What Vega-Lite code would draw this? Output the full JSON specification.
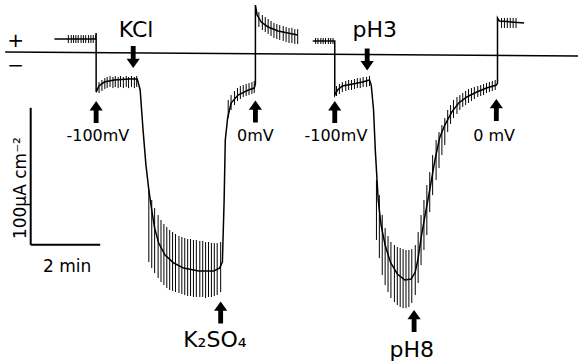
{
  "$schema": "https://vega.github.io/schema/vega-lite/v6.json",
  "autosize": {"type": "fit", "contains": "padding"},
  "width": 582,
  "height": 363,
  "padding": 0,
  "background": "white",
  "config": {"view": {"stroke": null}},
  "datasets": {
    "baseline": [{"t": 9, "I": 0.7}, {"t": 998, "I": -2.2}],
    "trace": [
      {"seg": "A", "t": 94, "I": 10.2}, {"seg": "A", "t": 117, "I": 10.2}, {"seg": "A", "t": 165, "I": 10.2},
      {"seg": "A", "t": 166, "I": 14.6}, {"seg": "A", "t": 166, "I": -28.5}, {"seg": "A", "t": 171, "I": -24.1},
      {"seg": "A", "t": 180, "I": -21.2}, {"seg": "A", "t": 197, "I": -19.7}, {"seg": "A", "t": 223, "I": -19.0},
      {"seg": "A", "t": 237, "I": -19.0}, {"seg": "A", "t": 242, "I": -27.0}, {"seg": "A", "t": 247, "I": -56.2},
      {"seg": "A", "t": 252, "I": -81.8}, {"seg": "A", "t": 257, "I": -100.0}, {"seg": "A", "t": 262, "I": -114.6},
      {"seg": "A", "t": 267, "I": -127.8}, {"seg": "A", "t": 274, "I": -138.7}, {"seg": "A", "t": 285, "I": -147.5},
      {"seg": "A", "t": 300, "I": -153.3}, {"seg": "A", "t": 317, "I": -157.0}, {"seg": "A", "t": 343, "I": -159.1},
      {"seg": "A", "t": 369, "I": -159.1}, {"seg": "A", "t": 379, "I": -157.0}, {"seg": "A", "t": 384, "I": -152.6},
      {"seg": "A", "t": 387, "I": -107.3}, {"seg": "A", "t": 389, "I": -63.5}, {"seg": "A", "t": 393, "I": -47.5},
      {"seg": "A", "t": 399, "I": -36.5}, {"seg": "A", "t": 411, "I": -30.7}, {"seg": "A", "t": 429, "I": -27.0},
      {"seg": "A", "t": 439, "I": -25.6}, {"seg": "A", "t": 441, "I": -22.6}, {"seg": "A", "t": 441, "I": 35.0},
      {"seg": "A", "t": 444, "I": 27.7}, {"seg": "A", "t": 451, "I": 22.6}, {"seg": "A", "t": 463, "I": 19.0},
      {"seg": "A", "t": 480, "I": 16.1}, {"seg": "A", "t": 497, "I": 14.6}, {"seg": "A", "t": 514, "I": 13.1},
      {"seg": "B", "t": 540, "I": 8.8}, {"seg": "B", "t": 578, "I": 8.8}, {"seg": "B", "t": 578, "I": -30.7},
      {"seg": "B", "t": 583, "I": -27.0}, {"seg": "B", "t": 591, "I": -24.1}, {"seg": "B", "t": 609, "I": -22.6},
      {"seg": "B", "t": 626, "I": -21.2}, {"seg": "B", "t": 638, "I": -19.7}, {"seg": "B", "t": 641, "I": -23.4},
      {"seg": "B", "t": 645, "I": -41.6}, {"seg": "B", "t": 648, "I": -70.8}, {"seg": "B", "t": 653, "I": -107.3},
      {"seg": "B", "t": 658, "I": -125.6}, {"seg": "B", "t": 665, "I": -140.2}, {"seg": "B", "t": 674, "I": -152.6},
      {"seg": "B", "t": 686, "I": -161.3}, {"seg": "B", "t": 699, "I": -165.7}, {"seg": "B", "t": 710, "I": -165.0},
      {"seg": "B", "t": 717, "I": -159.9}, {"seg": "B", "t": 722, "I": -149.7}, {"seg": "B", "t": 727, "I": -135.1},
      {"seg": "B", "t": 734, "I": -118.3}, {"seg": "B", "t": 742, "I": -100.0}, {"seg": "B", "t": 751, "I": -78.1},
      {"seg": "B", "t": 759, "I": -62.1}, {"seg": "B", "t": 768, "I": -52.6}, {"seg": "B", "t": 780, "I": -43.1},
      {"seg": "B", "t": 792, "I": -36.5}, {"seg": "B", "t": 806, "I": -32.1}, {"seg": "B", "t": 823, "I": -28.5},
      {"seg": "B", "t": 840, "I": -25.6}, {"seg": "B", "t": 857, "I": -23.4}, {"seg": "B", "t": 859, "I": -21.9},
      {"seg": "B", "t": 859, "I": 25.6}, {"seg": "B", "t": 862, "I": 23.4}, {"seg": "B", "t": 905, "I": 21.9}
    ],
    "ticks": [
      {"t": 118, "lo": 7.3, "hi": 13.1}, {"t": 123, "lo": 7.3, "hi": 13.1}, {"t": 127, "lo": 7.3, "hi": 13.1},
      {"t": 131, "lo": 7.3, "hi": 13.1}, {"t": 135, "lo": 7.3, "hi": 13.1}, {"t": 140, "lo": 7.3, "hi": 13.1},
      {"t": 144, "lo": 7.3, "hi": 13.1}, {"t": 148, "lo": 7.3, "hi": 13.1}, {"t": 153, "lo": 7.3, "hi": 13.1},
      {"t": 157, "lo": 7.3, "hi": 13.1}, {"t": 161, "lo": 7.3, "hi": 13.1},
      {"t": 171, "lo": -29.2, "hi": -21.2}, {"t": 176, "lo": -27.7, "hi": -19.7}, {"t": 181, "lo": -26.3, "hi": -18.3},
      {"t": 185, "lo": -25.6, "hi": -17.5}, {"t": 190, "lo": -24.8, "hi": -16.8}, {"t": 195, "lo": -25.6, "hi": -17.5},
      {"t": 199, "lo": -24.8, "hi": -16.8}, {"t": 204, "lo": -25.6, "hi": -17.5}, {"t": 208, "lo": -24.8, "hi": -16.8},
      {"t": 213, "lo": -25.6, "hi": -17.5}, {"t": 218, "lo": -24.8, "hi": -16.8}, {"t": 222, "lo": -25.6, "hi": -17.5},
      {"t": 227, "lo": -24.8, "hi": -16.8}, {"t": 232, "lo": -25.6, "hi": -17.5}, {"t": 236, "lo": -24.8, "hi": -16.8},
      {"t": 257, "lo": -152.6, "hi": -100.0}, {"t": 262, "lo": -157.0, "hi": -107.3}, {"t": 267, "lo": -160.6, "hi": -113.2},
      {"t": 273, "lo": -164.3, "hi": -118.3}, {"t": 278, "lo": -167.2, "hi": -121.9}, {"t": 283, "lo": -169.4, "hi": -124.8},
      {"t": 288, "lo": -171.6, "hi": -127.0}, {"t": 293, "lo": -173.0, "hi": -129.2}, {"t": 298, "lo": -173.7, "hi": -130.7},
      {"t": 303, "lo": -174.5, "hi": -132.1}, {"t": 309, "lo": -175.2, "hi": -133.6}, {"t": 314, "lo": -175.9, "hi": -134.3},
      {"t": 319, "lo": -176.7, "hi": -135.1}, {"t": 324, "lo": -177.4, "hi": -135.8}, {"t": 329, "lo": -177.4, "hi": -135.8},
      {"t": 334, "lo": -178.1, "hi": -136.5}, {"t": 339, "lo": -178.1, "hi": -136.5}, {"t": 345, "lo": -178.1, "hi": -137.2},
      {"t": 350, "lo": -178.1, "hi": -137.2}, {"t": 355, "lo": -178.9, "hi": -138.0}, {"t": 360, "lo": -178.1, "hi": -138.0},
      {"t": 365, "lo": -178.1, "hi": -138.7}, {"t": 370, "lo": -177.4, "hi": -138.7}, {"t": 375, "lo": -176.7, "hi": -138.7},
      {"t": 381, "lo": -174.5, "hi": -138.0},
      {"t": 394, "lo": -47.5, "hi": -34.3}, {"t": 399, "lo": -41.6, "hi": -30.7}, {"t": 405, "lo": -38.0, "hi": -27.7},
      {"t": 410, "lo": -35.0, "hi": -25.6}, {"t": 415, "lo": -33.6, "hi": -24.1}, {"t": 420, "lo": -32.1, "hi": -23.4},
      {"t": 425, "lo": -31.4, "hi": -22.6}, {"t": 430, "lo": -30.7, "hi": -21.9}, {"t": 435, "lo": -29.9, "hi": -21.2},
      {"t": 439, "lo": -29.2, "hi": -20.4},
      {"t": 447, "lo": 19.0, "hi": 29.9}, {"t": 453, "lo": 16.8, "hi": 27.7}, {"t": 458, "lo": 15.3, "hi": 26.3},
      {"t": 463, "lo": 13.9, "hi": 24.8}, {"t": 468, "lo": 12.4, "hi": 23.4}, {"t": 473, "lo": 11.0, "hi": 21.9},
      {"t": 478, "lo": 10.2, "hi": 21.2}, {"t": 483, "lo": 9.5, "hi": 20.4}, {"t": 489, "lo": 8.8, "hi": 19.7},
      {"t": 494, "lo": 8.0, "hi": 19.0}, {"t": 499, "lo": 7.3, "hi": 18.3}, {"t": 504, "lo": 7.3, "hi": 18.3},
      {"t": 509, "lo": 6.6, "hi": 17.5}, {"t": 514, "lo": 6.6, "hi": 17.5},
      {"t": 545, "lo": 6.6, "hi": 11.0}, {"t": 549, "lo": 6.6, "hi": 11.0}, {"t": 554, "lo": 6.6, "hi": 11.0},
      {"t": 558, "lo": 6.6, "hi": 11.0}, {"t": 562, "lo": 6.6, "hi": 11.0}, {"t": 567, "lo": 6.6, "hi": 11.0},
      {"t": 571, "lo": 6.6, "hi": 11.0}, {"t": 575, "lo": 6.6, "hi": 11.0},
      {"t": 581, "lo": -31.4, "hi": -24.1}, {"t": 586, "lo": -29.9, "hi": -22.6}, {"t": 591, "lo": -28.5, "hi": -21.2},
      {"t": 597, "lo": -27.7, "hi": -20.4}, {"t": 602, "lo": -27.0, "hi": -19.7}, {"t": 607, "lo": -27.0, "hi": -19.7},
      {"t": 612, "lo": -26.3, "hi": -19.0}, {"t": 617, "lo": -25.6, "hi": -18.3}, {"t": 622, "lo": -25.6, "hi": -18.3},
      {"t": 627, "lo": -24.8, "hi": -17.5}, {"t": 633, "lo": -24.8, "hi": -17.5}, {"t": 638, "lo": -24.1, "hi": -16.8},
      {"t": 650, "lo": -136.5, "hi": -92.7}, {"t": 655, "lo": -149.7, "hi": -103.7}, {"t": 660, "lo": -162.1, "hi": -118.3},
      {"t": 665, "lo": -169.4, "hi": -127.8}, {"t": 670, "lo": -174.5, "hi": -133.6}, {"t": 675, "lo": -178.9, "hi": -138.0},
      {"t": 681, "lo": -181.8, "hi": -140.2}, {"t": 686, "lo": -184.0, "hi": -141.6}, {"t": 691, "lo": -185.4, "hi": -142.4},
      {"t": 696, "lo": -186.2, "hi": -143.1}, {"t": 701, "lo": -186.2, "hi": -143.8}, {"t": 706, "lo": -185.4, "hi": -143.8},
      {"t": 711, "lo": -182.5, "hi": -143.1}, {"t": 717, "lo": -176.7, "hi": -140.2}, {"t": 722, "lo": -167.9, "hi": -130.7},
      {"t": 727, "lo": -154.8, "hi": -118.3}, {"t": 732, "lo": -143.8, "hi": -107.3}, {"t": 737, "lo": -132.9, "hi": -96.4},
      {"t": 742, "lo": -116.1, "hi": -86.9}, {"t": 747, "lo": -103.7, "hi": -74.5}, {"t": 753, "lo": -92.7, "hi": -63.5},
      {"t": 758, "lo": -84.0, "hi": -57.7}, {"t": 763, "lo": -74.5, "hi": -52.6}, {"t": 768, "lo": -67.2, "hi": -47.5},
      {"t": 773, "lo": -57.7, "hi": -41.6}, {"t": 778, "lo": -51.8, "hi": -38.0}, {"t": 783, "lo": -47.5, "hi": -34.3},
      {"t": 789, "lo": -44.5, "hi": -32.1}, {"t": 794, "lo": -41.6, "hi": -30.7}, {"t": 799, "lo": -39.4, "hi": -29.2},
      {"t": 804, "lo": -38.0, "hi": -27.7}, {"t": 809, "lo": -36.5, "hi": -26.3}, {"t": 814, "lo": -35.0, "hi": -25.6},
      {"t": 819, "lo": -33.6, "hi": -24.8}, {"t": 825, "lo": -32.1, "hi": -24.1}, {"t": 830, "lo": -31.4, "hi": -23.4},
      {"t": 835, "lo": -30.7, "hi": -22.6}, {"t": 840, "lo": -29.2, "hi": -21.9}, {"t": 845, "lo": -28.5, "hi": -21.2},
      {"t": 850, "lo": -27.7, "hi": -20.4}, {"t": 855, "lo": -27.0, "hi": -19.7},
      {"t": 866, "lo": 18.3, "hi": 25.6}, {"t": 871, "lo": 18.3, "hi": 25.6}, {"t": 876, "lo": 18.3, "hi": 25.6},
      {"t": 881, "lo": 18.3, "hi": 25.6}, {"t": 886, "lo": 18.3, "hi": 25.6}, {"t": 891, "lo": 18.3, "hi": 25.6}
    ],
    "scalebar": [
      {"bar": "current", "t": 53, "t2": 53, "I": -140, "I2": -40},
      {"bar": "time", "t": 53, "t2": 173, "I": -140, "I2": -140}
    ],
    "arrows": [
      {"dir": "up", "t": 166, "I": -43.1}, {"dir": "up", "t": 441, "I": -42.7},
      {"dir": "up", "t": 578, "I": -43.1}, {"dir": "up", "t": 857, "I": -41.6},
      {"dir": "up", "t": 381, "I": -189.4}, {"dir": "up", "t": 715, "I": -195.6},
      {"dir": "down", "t": 230, "I": -2.9}, {"dir": "down", "t": 634, "I": -4.7}
    ],
    "labels": [
      {"role": "treatment", "label": "KCl", "t": 235, "I": 11.7},
      {"role": "treatment", "label": "pH3", "t": 647, "I": 11.7},
      {"role": "treatment", "label": "K₂SO₄", "t": 371, "I": -214.6},
      {"role": "treatment", "label": "pH8", "t": 711, "I": -221.9},
      {"role": "voltage", "label": "-100mV", "t": 169, "I": -64.2},
      {"role": "voltage", "label": "0mV", "t": 441, "I": -64.2},
      {"role": "voltage", "label": "-100mV", "t": 580, "I": -64.2},
      {"role": "voltage", "label": "0 mV", "t": 853, "I": -64.2},
      {"role": "time", "label": "2 min", "t": 116, "I": -159.9},
      {"role": "current", "label": "100µA cm⁻²", "t": 45, "I": -98.6},
      {"role": "polarity", "label": "+", "t": 27, "I": 8.8},
      {"role": "polarity", "label": "−", "t": 27, "I": -9.5}
    ]
  },
  "encoding": {
    "x": {"field": "t", "type": "quantitative", "axis": null, "scale": {"domain": [0, 998], "nice": false, "zero": false}},
    "y": {"field": "I", "type": "quantitative", "axis": null, "scale": {"domain": [-226.3, 38.7], "nice": false, "zero": false}}
  },
  "layer": [
    {
      "data": {"name": "baseline"},
      "mark": {"type": "line", "color": "black", "strokeWidth": 1.6},
      "encoding": {}
    },
    {
      "data": {"name": "ticks"},
      "mark": {"type": "rule", "color": "black", "strokeWidth": 1},
      "encoding": {
        "y": {"field": "lo", "type": "quantitative"},
        "y2": {"field": "hi"}
      }
    },
    {
      "data": {"name": "trace"},
      "mark": {"type": "line", "color": "black", "strokeWidth": 1.5},
      "encoding": {
        "detail": {"field": "seg"},
        "order": {"value": null}
      }
    },
    {
      "data": {"name": "scalebar"},
      "mark": {"type": "rule", "color": "black", "strokeWidth": 2},
      "encoding": {
        "x2": {"field": "t2"},
        "y2": {"field": "I2"}
      }
    },
    {
      "data": {"name": "arrows"},
      "transform": [{"filter": "datum.dir === 'up'"}],
      "mark": {"type": "point", "shape": "M0,-1L0.6,-0.15L0.22,-0.15L0.22,1L-0.22,1L-0.22,-0.15L-0.6,-0.15Z", "size": 484, "filled": true, "color": "black", "opacity": 1, "strokeWidth": 0}
    },
    {
      "data": {"name": "arrows"},
      "transform": [{"filter": "datum.dir === 'down'"}],
      "mark": {"type": "point", "shape": "M0,1L0.6,0.15L0.22,0.15L0.22,-1L-0.22,-1L-0.22,0.15L-0.6,0.15Z", "size": 484, "filled": true, "color": "black", "opacity": 1, "strokeWidth": 0}
    },
    {
      "data": {"name": "labels"},
      "transform": [{"filter": "datum.role === 'treatment'"}],
      "mark": {"type": "text", "font": "DejaVu Sans", "fontSize": 22, "color": "black", "align": "center", "baseline": "alphabetic"},
      "encoding": {"text": {"field": "label"}}
    },
    {
      "data": {"name": "labels"},
      "transform": [{"filter": "datum.role === 'voltage'"}],
      "mark": {"type": "text", "font": "DejaVu Sans", "fontSize": 16, "color": "black", "align": "center", "baseline": "alphabetic"},
      "encoding": {"text": {"field": "label"}}
    },
    {
      "data": {"name": "labels"},
      "transform": [{"filter": "datum.role === 'time'"}],
      "mark": {"type": "text", "font": "DejaVu Sans", "fontSize": 17, "color": "black", "align": "center", "baseline": "alphabetic"},
      "encoding": {"text": {"field": "label"}}
    },
    {
      "data": {"name": "labels"},
      "transform": [{"filter": "datum.role === 'current'"}],
      "mark": {"type": "text", "font": "DejaVu Sans", "fontSize": 17, "color": "black", "align": "center", "baseline": "alphabetic", "angle": 270},
      "encoding": {"text": {"field": "label"}}
    },
    {
      "data": {"name": "labels"},
      "transform": [{"filter": "datum.role === 'polarity'"}],
      "mark": {"type": "text", "font": "DejaVu Sans", "fontSize": 20, "color": "black", "align": "center", "baseline": "middle"},
      "encoding": {"text": {"field": "label"}}
    }
  ]
}
